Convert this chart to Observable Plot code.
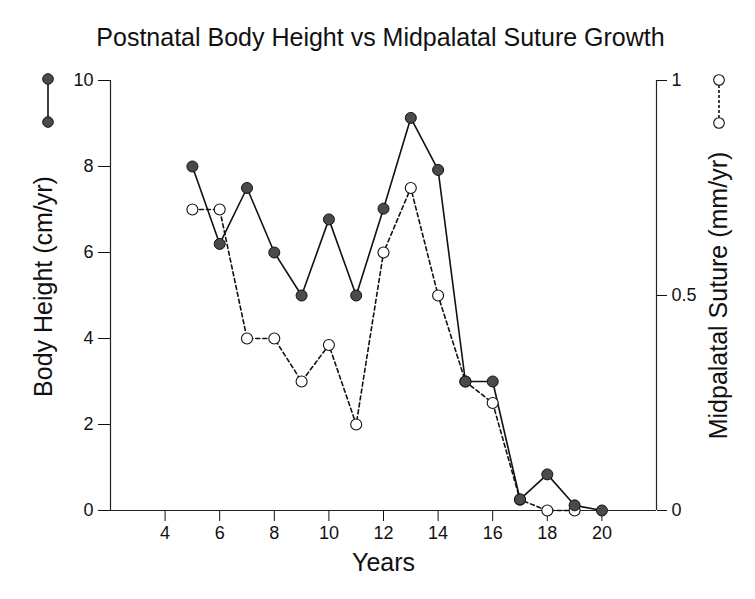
<!DOCTYPE html>
<html>
<head>
<meta charset="utf-8">
<script src="https://cdn.jsdelivr.net/npm/d3@7"></script>
<script src="https://cdn.jsdelivr.net/npm/@observablehq/plot@0.6"></script>
<style>
  body { margin: 0; background: #fff; }
  #wrap { position: relative; width: 755px; height: 599px; font-family: "Liberation Sans", Arial, sans-serif; }
  #title { height: 50px; width: 755px; text-align: center; font-size: 25px; line-height: 26px; padding-top: 24px; box-sizing: border-box; padding-left: 6px; color: #111; }
  .legend { position: absolute; top: 0; }
</style>
</head>
<body>
<div id="wrap">
  <div id="title">Postnatal Body Height vs Midpalatal Suture Growth</div>
  <div id="chart"></div>
  <svg class="legend" style="left:0" width="80" height="140">
    <line x1="48" y1="79" x2="48" y2="122" stroke="#111" stroke-width="1.6"/>
    <circle cx="48" cy="79" r="5.3" fill="#4a4a4a" stroke="#111" stroke-width="1"/>
    <circle cx="48" cy="122" r="5.3" fill="#4a4a4a" stroke="#111" stroke-width="1"/>
  </svg>
  <svg class="legend" style="left:680px" width="75" height="140">
    <line x1="39" y1="80" x2="39" y2="123" stroke="#111" stroke-width="1.6" stroke-dasharray="3,2"/>
    <circle cx="39" cy="80" r="5.3" fill="#fff" stroke="#111" stroke-width="1.1"/>
    <circle cx="39" cy="123" r="5.3" fill="#fff" stroke="#111" stroke-width="1.1"/>
  </svg>
</div>
<script>
const years = [5, 6, 7, 8, 9, 10, 11, 12, 13, 14, 15, 16, 17, 18, 19, 20];
const bodyHeight = [8.0, 6.2, 7.5, 6.0, 5.0, 6.77, 5.0, 7.02, 9.13, 7.92, 3.0, 3.0, 0.26, 0.84, 0.12, 0.0];
const sutureYears = [5, 6, 7, 8, 9, 10, 11, 12, 13, 14, 15, 16, 17, 18, 19];
const suture = [0.70, 0.70, 0.40, 0.40, 0.30, 0.385, 0.20, 0.60, 0.75, 0.50, 0.30, 0.25, 0.025, 0.0, 0.0];
const xTicks = [4, 6, 8, 10, 12, 14, 16, 18, 20];
const leftTicks = [0, 2, 4, 6, 8, 10];
const rightTicks = [0, 0.5, 1];
const xLabel = "Years";
const leftLabel = "Body Height (cm/yr)";
const rightLabel = "Midpalatal Suture (mm/yr)";

const bodyData = years.map((x, i) => ({x, v: bodyHeight[i]}));
const sutureData = sutureYears.map((x, i) => ({x, v: suture[i]}));
const ratio = 10; // right axis 0..1 mapped onto left 0..10

const chart = Plot.plot({
  width: 755,
  height: 549,
  marginTop: 30,
  marginBottom: 89,
  marginLeft: 110,
  marginRight: 99,
  style: {fontFamily: "Liberation Sans, Arial, sans-serif", fontSize: "18px", color: "#111", background: "#fff"},
  x: {domain: [2, 22]},
  y: {domain: [0, 10]},
  marks: [
    Plot.ruleX([2, 22], {y1: 0, y2: 10, stroke: "#222", strokeWidth: 1.2}),
    Plot.ruleY([0], {stroke: "#222", strokeWidth: 1.2}),
    Plot.axisX({ticks: xTicks, tickSize: 11, tickPadding: 5, tickFormat: d => d, label: null, fontSize: 18}),
    Plot.axisY({anchor: "left", ticks: leftTicks, tickSize: 12, tickPadding: 5, tickFormat: d => d, label: null, fontSize: 18}),
    Plot.axisY({anchor: "right", ticks: rightTicks.map(t => t * ratio), tickSize: 10, tickPadding: 5, tickFormat: d => d / ratio, label: null, fontSize: 18}),
    Plot.text([xLabel], {frameAnchor: "bottom", textAnchor: "middle", dy: 60, fontSize: 25, fill: "#111"}),
    Plot.text([leftLabel], {frameAnchor: "left", textAnchor: "middle", rotate: -90, dx: -67, dy: -9, fontSize: 25, fill: "#111"}),
    Plot.text([rightLabel], {frameAnchor: "right", textAnchor: "middle", rotate: -90, dx: 62, fontSize: 25, fill: "#111"}),
    Plot.line(sutureData, {x: "x", y: d => d.v * ratio, stroke: "#111", strokeWidth: 1.6, strokeDasharray: "4,3"}),
    Plot.line(bodyData, {x: "x", y: "v", stroke: "#111", strokeWidth: 1.6}),
    Plot.dot(sutureData, {x: "x", y: d => d.v * ratio, r: 5.5, fill: "#fff", stroke: "#111", strokeWidth: 1.1}),
    Plot.dot(bodyData, {x: "x", y: "v", r: 5.5, fill: "#4a4a4a", stroke: "#111", strokeWidth: 1})
  ]
});
document.getElementById("chart").appendChild(chart);
</script>
</body>
</html>
